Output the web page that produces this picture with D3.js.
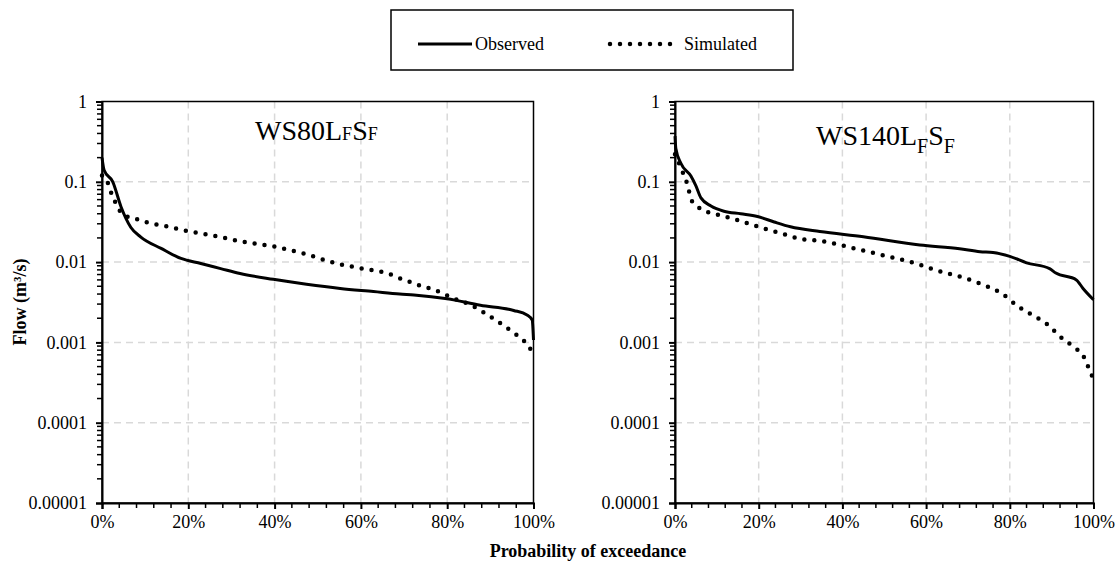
<!DOCTYPE html>
<html>
<head>
<meta charset="utf-8">
<script src="https://cdn.jsdelivr.net/npm/d3@7"></script>
<style>
  body { margin: 0; background: #fff; }
  svg text { font-family: 'Liberation Serif', 'Times New Roman', Times, 'DejaVu Serif', serif !important; fill: #000; }
</style>
</head>
<body>
<svg id="chart" width="1118" height="569"></svg>
<script>
// WS80 LF SF
const ws80ObsP = [0, 0.5, 2.5, 4.4, 6.7, 9, 13.7, 18.3, 22.9, 27.5, 32, 39.7, 47.4, 55.2, 62.9, 69, 72.3, 80, 87.7, 95.4, 98.5, 99.7, 100];
const ws80ObsQ = [0.2, 0.139, 0.1, 0.049, 0.027, 0.0205, 0.0148, 0.0111, 0.0096, 0.0083, 0.0072, 0.0061, 0.0053, 0.0047, 0.0043, 0.004, 0.0039, 0.0035, 0.0029, 0.0025, 0.0022, 0.0019, 0.00107];
const ws80SimP = [0, 1.2, 2, 2.8, 4.2, 5.8, 8.2, 10.6, 15.5, 20.6, 25.2, 32.7, 40.2, 47.4, 54.4, 59.4, 66.6, 69, 73.3, 77.5, 81.7, 85.6, 89.4, 92.9, 96, 98.7, 100];
const ws80SimQ = [0.12, 0.102, 0.076, 0.06, 0.043, 0.037, 0.034, 0.031, 0.0275, 0.0239, 0.0217, 0.0179, 0.0155, 0.0125, 0.0096, 0.0085, 0.0071, 0.0063, 0.0052, 0.0044, 0.0035, 0.0029, 0.0022, 0.00165, 0.00125, 0.00092, 0.00072];

// WS140 LF SF
const ws140ObsP = [0, 0.2, 1.4, 3.8, 5, 6.2, 8.6, 11.7, 15.7, 19.7, 23.7, 27.6, 34.6, 45, 58.5, 68, 72.9, 76, 80, 84, 89.5, 91, 95.9, 97.5, 100];
const ws140ObsQ = [0.37, 0.26, 0.17, 0.118, 0.089, 0.063, 0.05, 0.043, 0.04, 0.037, 0.0316, 0.0275, 0.024, 0.0207, 0.0163, 0.0147, 0.0135, 0.0132, 0.0118, 0.0098, 0.0083, 0.0073, 0.006, 0.0047, 0.0034];
const ws140SimP = [0, 0.6, 1.4, 2.5, 3.2, 3.8, 5.4, 7.8, 10.2, 12.7, 15.3, 17.7, 20, 22.5, 25.2, 27.6, 30, 35, 42.6, 50.2, 57.6, 62.4, 69.3, 73.7, 78, 82, 86, 89.1, 92, 95.1, 97.9, 98.7, 99.6, 100];
const ws140SimQ = [0.22, 0.19, 0.147, 0.11, 0.083, 0.061, 0.049, 0.042, 0.039, 0.036, 0.033, 0.030, 0.0275, 0.025, 0.023, 0.021, 0.0194, 0.0183, 0.0149, 0.012, 0.0096, 0.0079, 0.0063, 0.0052, 0.0041, 0.0028, 0.0021, 0.00166, 0.00118, 0.00089, 0.00063, 0.0005, 0.00039, 0.0003];

const yTicks = [1, 0.1, 0.01, 0.001, 0.0001, 0.00001];
const yTickLabels = ["1", "0.1", "0.01", "0.001", "0.0001", "0.00001"];
const xTicks = [0, 20, 40, 60, 80, 100];
const seriesNames = ["Observed", "Simulated"];

const svg = d3.select("#chart");
const plotTop = 101.5, plotBottom = 503;

const panels = [
  { x0: 102, x1: 533.5, obs: [ws80ObsP, ws80ObsQ], sim: [ws80SimP, ws80SimQ],
    title: ["WS80L", "F", "S", "F"], tx: 255, ty: 140, subDy: 0, subSize: 18 },
  { x0: 675, x1: 1093.5, obs: [ws140ObsP, ws140ObsQ], sim: [ws140SimP, ws140SimQ],
    title: ["WS140L", "F", "S", "F"], tx: 816, ty: 145, subDy: 8, subSize: 20 }
];

const y = d3.scaleLog().domain([1e-5, 1]).range([plotBottom, plotTop]);

panels.forEach(p => {
  const x = d3.scaleLinear().domain([0, 100]).range([p.x0, p.x1]);
  const g = svg.append("g");

  // grid
  g.selectAll(".vgrid").data(xTicks.slice(1, -1)).enter().append("line")
    .attr("x1", d => x(d)).attr("x2", d => x(d))
    .attr("y1", plotTop).attr("y2", plotBottom)
    .attr("stroke", "#d9d9d9").attr("stroke-width", 1.5).attr("stroke-dasharray", "7,5");
  g.selectAll(".hgrid").data(yTicks.slice(1, -1)).enter().append("line")
    .attr("x1", p.x0).attr("x2", p.x1)
    .attr("y1", d => y(d)).attr("y2", d => y(d))
    .attr("stroke", "#d9d9d9").attr("stroke-width", 1.5).attr("stroke-dasharray", "7,5");

  // plot border
  g.append("rect").attr("x", p.x0).attr("y", plotTop)
    .attr("width", p.x1 - p.x0).attr("height", plotBottom - plotTop)
    .attr("fill", "none").attr("stroke", "#000").attr("stroke-width", 1.5);

  // y axis with log minor ticks
  const minor = [];
  for (let e = -5; e < 0; e++) for (let m = 2; m <= 9; m++) minor.push(m * Math.pow(10, e));
  const yAxis = d3.axisLeft(y).tickValues(yTicks).tickSize(6).tickFormat((d, i) => yTickLabels[i]);
  const ya = g.append("g").attr("transform", `translate(${p.x0},0)`).call(yAxis)
    .attr("font-family", null).attr("font-size", null);
  ya.select(".domain").attr("stroke-width", 2);
  ya.selectAll(".tick line").attr("stroke-width", 2);
  ya.selectAll("text").attr("font-size", 18).attr("dx", -6);
  g.selectAll(".ymin").data(minor).enter().append("line")
    .attr("x1", p.x0 - 5).attr("x2", p.x0)
    .attr("y1", d => y(d)).attr("y2", d => y(d))
    .attr("stroke", "#000").attr("stroke-width", 1.5);

  // x axis
  const xAxis = d3.axisBottom(x).tickValues(xTicks).tickSize(6).tickFormat(d => d + "%");
  const xa = g.append("g").attr("transform", `translate(0,${plotBottom})`).call(xAxis)
    .attr("font-family", null).attr("font-size", null);
  xa.select(".domain").attr("stroke-width", 2);
  xa.selectAll(".tick line").attr("stroke-width", 2);
  xa.selectAll("text").attr("font-size", 18).attr("dy", "0.9em");
  g.selectAll(".xmin").data(d3.range(4, 100, 4).filter(d => d % 20 !== 0)).enter().append("line")
    .attr("x1", d => x(d)).attr("x2", d => x(d))
    .attr("y1", plotBottom).attr("y2", plotBottom + 5)
    .attr("stroke", "#000").attr("stroke-width", 1.5);

  const line = d3.line().x(d => x(d[0])).y(d => y(d[1])).curve(d3.curveMonotoneX);

  g.append("path").datum(d3.zip(p.sim[0], p.sim[1])).attr("d", line)
    .attr("fill", "none").attr("stroke", "#000").attr("stroke-width", 4.5)
    .attr("stroke-linecap", "round").attr("stroke-dasharray", "0,10");
  g.append("path").datum(d3.zip(p.obs[0], p.obs[1])).attr("d", line)
    .attr("fill", "none").attr("stroke", "#000").attr("stroke-width", 3)
    .attr("stroke-linejoin", "round");

  // title
  const t = g.append("text").attr("x", p.tx).attr("y", p.ty).attr("font-size", 28);
  t.append("tspan").text(p.title[0]);
  t.append("tspan").attr("font-size", p.subSize).attr("dy", p.subDy).text(p.title[1]);
  t.append("tspan").attr("dy", -p.subDy).text(p.title[2]);
  t.append("tspan").attr("font-size", p.subSize).attr("dy", p.subDy).text(p.title[3]);
});

// axis titles
svg.append("text").attr("transform", "translate(26,302) rotate(-90)")
  .attr("text-anchor", "middle").attr("font-size", 18).attr("font-weight", "bold")
  .text("Flow (m³/s)");
svg.append("text").attr("x", 588).attr("y", 557)
  .attr("text-anchor", "middle").attr("font-size", 18).attr("font-weight", "bold")
  .text("Probability of exceedance");

// legend
const lg = svg.append("g");
lg.append("rect").attr("x", 391).attr("y", 10).attr("width", 402).attr("height", 60)
  .attr("fill", "#fff").attr("stroke", "#000").attr("stroke-width", 1.5);
lg.append("line").attr("x1", 418).attr("x2", 472).attr("y1", 44).attr("y2", 44)
  .attr("stroke", "#000").attr("stroke-width", 3);
lg.append("text").attr("x", 475).attr("y", 50).attr("font-size", 18).text(seriesNames[0]);
lg.append("line").attr("x1", 610).attr("x2", 680).attr("y1", 44).attr("y2", 44)
  .attr("stroke", "#000").attr("stroke-width", 4.5).attr("stroke-linecap", "round")
  .attr("stroke-dasharray", "0,10");
lg.append("text").attr("x", 684).attr("y", 50).attr("font-size", 18).text(seriesNames[1]);
</script>
</body>
</html>
